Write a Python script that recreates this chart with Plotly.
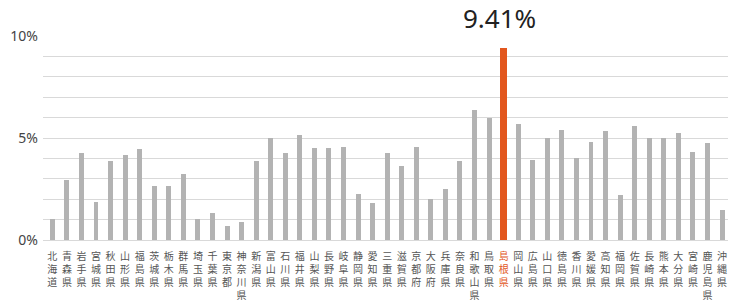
import plotly.graph_objects as go

prefectures = ["北海道","青森県","岩手県","宮城県","秋田県","山形県","福島県","茨城県","栃木県","群馬県",
               "埼玉県","千葉県","東京都","神奈川県","新潟県","富山県","石川県","福井県","山梨県","長野県",
               "岐阜県","静岡県","愛知県","三重県","滋賀県","京都府","大阪府","兵庫県","奈良県","和歌山県",
               "鳥取県","島根県","岡山県","広島県","山口県","徳島県","香川県","愛媛県","高知県","福岡県",
               "佐賀県","長崎県","熊本県","大分県","宮崎県","鹿児島県","沖縄県"]
values = [1.01,2.94,4.28,1.88,3.87,4.15,4.44,2.66,2.66,3.25,
          1.01,1.34,0.69,0.87,3.86,4.98,4.25,5.13,4.53,4.53,
          4.58,2.25,1.83,4.28,3.63,4.56,2.01,2.50,3.87,6.39,
          6.00,9.41,5.67,3.94,5.02,5.41,4.02,4.82,5.34,2.22,
          5.57,4.98,5.02,5.25,4.30,4.77,1.47]
highlight = "島根県"
y_tickvals = [0, 5, 10]
y_ticktext = ["0%", "5%", "10%"]

GREY = "#B3B3B3"
ORANGE = "#E2571E"

idx = list(range(len(prefectures)))
colors = [ORANGE if p == highlight else GREY for p in prefectures]
widths = [0.46 if p == highlight else 0.34 for p in prefectures]
ticktext = []
for p in prefectures:
    t = "<br>".join(list(p))
    if p == highlight:
        t = f"<span style='color:{ORANGE}'>{t}</span>"
    ticktext.append(t)

hi = prefectures.index(highlight)

fig = go.Figure(go.Bar(x=idx, y=values, marker=dict(color=colors, line=dict(width=0)),
                       width=widths, hoverinfo="skip"))

fig.add_annotation(x=hi, y=values[hi], xref="x", yref="y", text=f"{values[hi]:.2f}%",
                   showarrow=False, yanchor="middle", yshift=30, xshift=-4,
                   font=dict(size=26, color="#222222"))

fig.update_layout(
    width=738, height=302,
    margin=dict(l=43, r=10, t=36, b=62),
    paper_bgcolor="white", plot_bgcolor="white",
    font=dict(family="Noto Sans, Noto Sans CJK JP, sans-serif", color="#444444"),
    showlegend=False,
    bargap=0,
)
fig.update_xaxes(range=[-0.64, 46.41], tickmode="array", tickvals=idx, ticktext=ticktext,
                 tickfont=dict(size=10, color="#555555", family="Noto Sans CJK JP"),
                 showgrid=False, ticks="", showline=False, zeroline=False, tickangle=0,
                 automargin=False, ticklabelstandoff=9)
fig.update_yaxes(range=[0, 10], tickmode="array", tickvals=y_tickvals, ticktext=y_ticktext,
                 tickfont=dict(size=14, color="#444444"),
                 showgrid=True, gridcolor="#D9D9D9", gridwidth=1,
                 minor=dict(dtick=1, tick0=0, showgrid=True, gridcolor="#D9D9D9", gridwidth=1),
                 zeroline=True, zerolinecolor="#D9D9D9", zerolinewidth=1,
                 showline=False, ticks="", ticklabelstandoff=4, automargin=False)

fig.write_html("out.html")
